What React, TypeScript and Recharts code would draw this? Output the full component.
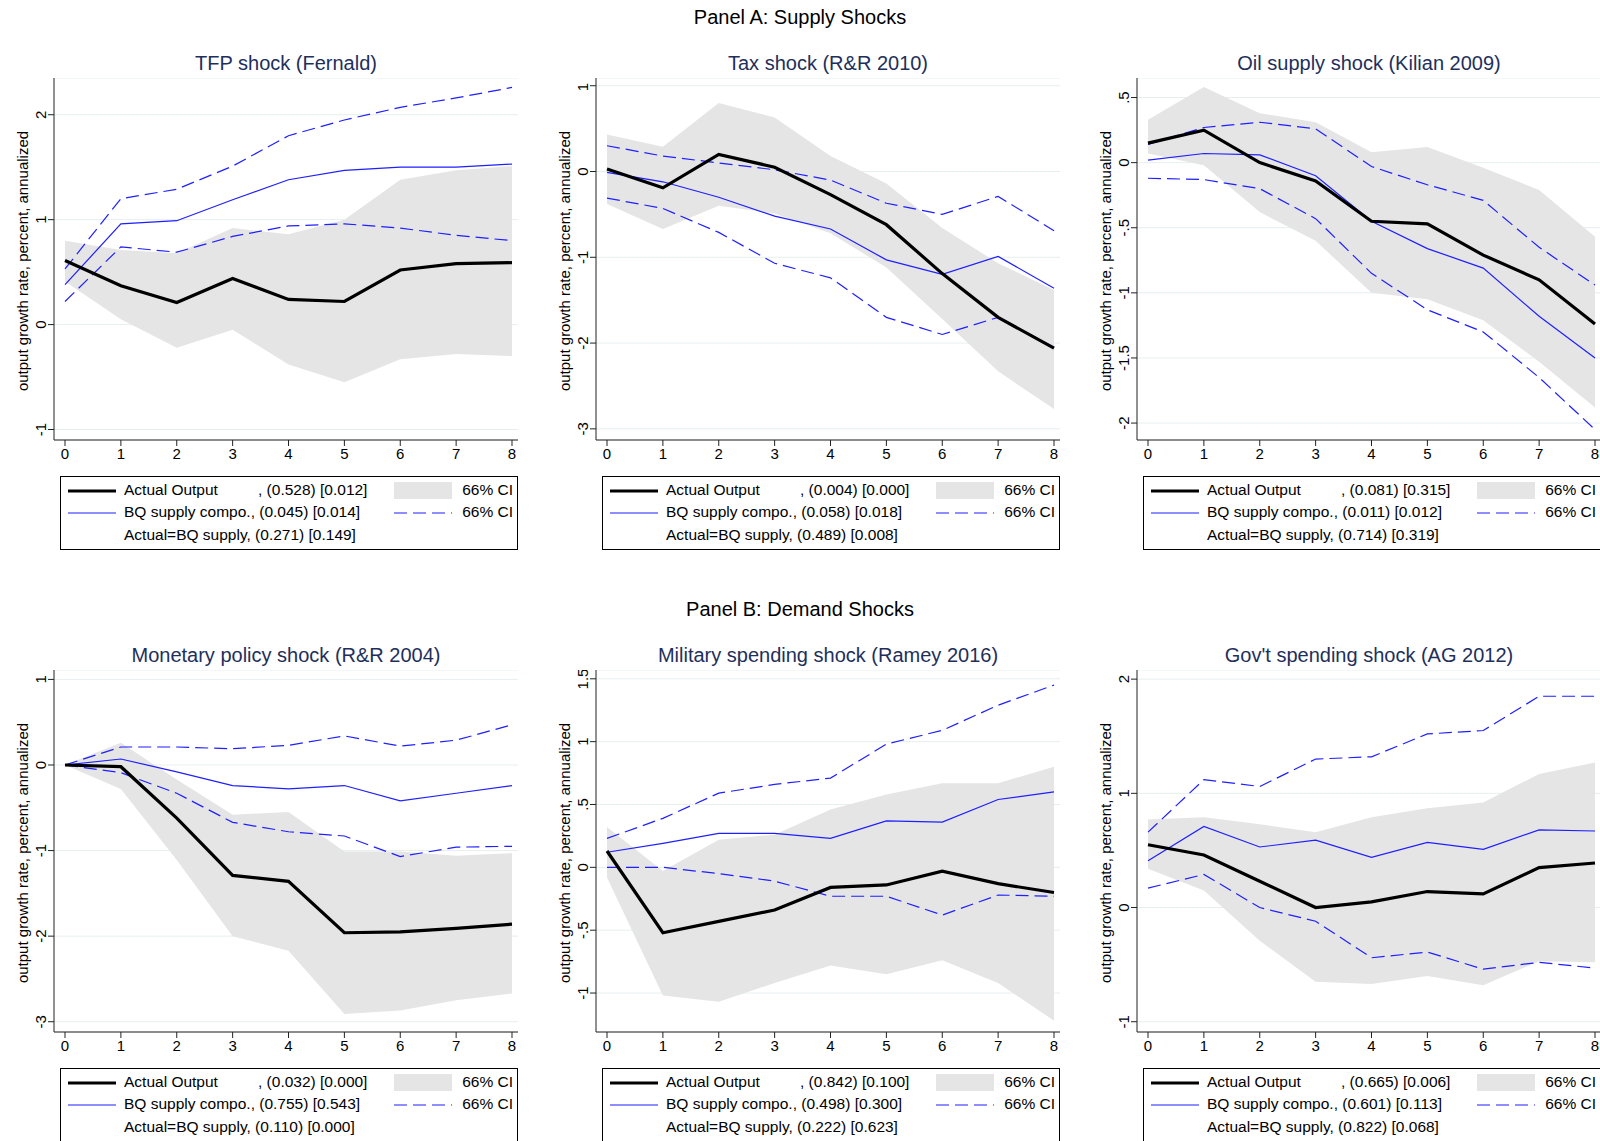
import React from 'react';
import { ComposedChart, Line, Area, XAxis, YAxis, CartesianGrid } from 'recharts';

const horizons = [0, 1, 2, 3, 4, 5, 6, 7, 8];

// Panel A
const tfpActual = [0.61, 0.37, 0.21, 0.44, 0.24, 0.22, 0.52, 0.58, 0.59];
const tfpBq = [0.38, 0.96, 0.99, 1.19, 1.38, 1.47, 1.5, 1.5, 1.53];
const tfpBqHi = [0.53, 1.2, 1.29, 1.51, 1.8, 1.95, 2.07, 2.16, 2.26];
const tfpBqLo = [0.22, 0.74, 0.69, 0.84, 0.94, 0.96, 0.92, 0.85, 0.8];
const tfpCiHi = [0.8, 0.71, 0.68, 0.92, 0.86, 1.0, 1.38, 1.47, 1.51];
const tfpCiLo = [0.41, 0.05, -0.22, -0.05, -0.38, -0.55, -0.33, -0.28, -0.3];

const taxActual = [0.03, -0.19, 0.2, 0.05, -0.27, -0.62, -1.19, -1.7, -2.06];
const taxBq = [-0.01, -0.12, -0.3, -0.52, -0.67, -1.03, -1.2, -0.99, -1.36];
const taxBqHi = [0.3, 0.18, 0.1, 0.02, -0.1, -0.37, -0.5, -0.29, -0.69];
const taxBqLo = [-0.31, -0.43, -0.71, -1.07, -1.24, -1.7, -1.9, -1.7, -2.05];
const taxCiHi = [0.43, 0.29, 0.8, 0.63, 0.18, -0.14, -0.66, -1.07, -1.38];
const taxCiLo = [-0.38, -0.67, -0.4, -0.49, -0.72, -1.12, -1.72, -2.33, -2.77];

const oilActual = [0.15, 0.25, 0.0, -0.14, -0.45, -0.47, -0.71, -0.9, -1.24];
const oilBq = [0.02, 0.07, 0.06, -0.1, -0.45, -0.66, -0.81, -1.18, -1.5];
const oilBqHi = [0.14, 0.27, 0.31, 0.26, -0.03, -0.17, -0.29, -0.65, -0.94];
const oilBqLo = [-0.12, -0.13, -0.2, -0.43, -0.85, -1.13, -1.3, -1.65, -2.05];
const oilCiHi = [0.33, 0.58, 0.38, 0.31, 0.08, 0.12, -0.04, -0.21, -0.57];
const oilCiLo = [0.07, -0.02, -0.38, -0.6, -1.0, -1.05, -1.21, -1.53, -1.88];

// Panel B
const monActual = [0, -0.02, -0.62, -1.29, -1.36, -1.96, -1.95, -1.91, -1.86];
const monBq = [0, 0.07, -0.08, -0.24, -0.28, -0.24, -0.42, -0.33, -0.24];
const monBqHi = [0, 0.21, 0.21, 0.19, 0.23, 0.34, 0.22, 0.29, 0.47];
const monBqLo = [0, -0.09, -0.33, -0.67, -0.78, -0.83, -1.07, -0.96, -0.95];
const monCiHi = [0, 0.26, -0.17, -0.58, -0.55, -1.01, -1.01, -1.06, -1.03];
const monCiLo = [0, -0.28, -1.11, -2.0, -2.17, -2.91, -2.87, -2.75, -2.67];

const milActual = [0.13, -0.52, -0.43, -0.34, -0.16, -0.14, -0.03, -0.13, -0.2];
const milBq = [0.12, 0.19, 0.27, 0.27, 0.23, 0.37, 0.36, 0.54, 0.6];
const milBqHi = [0.23, 0.39, 0.59, 0.66, 0.71, 0.98, 1.09, 1.29, 1.45];
const milBqLo = [0, 0, -0.05, -0.11, -0.23, -0.23, -0.38, -0.22, -0.23];
const milCiHi = [0.32, -0.03, 0.22, 0.26, 0.46, 0.58, 0.67, 0.67, 0.8];
const milCiLo = [-0.08, -1.02, -1.07, -0.92, -0.78, -0.85, -0.74, -0.92, -1.22];

const govActual = [0.55, 0.46, 0.23, 0.0, 0.05, 0.14, 0.12, 0.35, 0.39];
const govBq = [0.41, 0.71, 0.53, 0.59, 0.44, 0.57, 0.51, 0.68, 0.67];
const govBqHi = [0.66, 1.12, 1.06, 1.3, 1.32, 1.52, 1.55, 1.85, 1.85];
const govBqLo = [0.17, 0.29, 0.0, -0.12, -0.44, -0.39, -0.54, -0.48, -0.53];
const govCiHi = [0.77, 0.79, 0.73, 0.66, 0.79, 0.87, 0.92, 1.17, 1.27];
const govCiLo = [0.34, 0.15, -0.29, -0.65, -0.67, -0.6, -0.68, -0.47, -0.48];

const NAVY = '#1e2f5c';
const BLUE = '#1f1fff';
const FONT = 'Arial, "Liberation Sans", sans-serif';

const fmt = (v: number) => {
  if (v === 0) return '0';
  const s = String(v);
  return s.replace(/^0\./, '.').replace(/^-0\./, '-.');
};

interface PanelProps {
  title: string;
  left: number;
  top: number;
  domain: [number, number];
  ticks: number[];
  actual: number[];
  bq: number[];
  bqHi: number[];
  bqLo: number[];
  ciHi: number[];
  ciLo: number[];
  stats: string[];
}

const RotTick = (props: any) => {
  const { x, y, payload } = props;
  return (
    <text x={x} y={y} transform={`rotate(-90 ${x} ${y})`} textAnchor="middle" fontSize={15} fill="#000" fontFamily={FONT}>
      {fmt(payload.value)}
    </text>
  );
};

const Panel: React.FC<PanelProps> = (p) => {
  const data = horizons.map((h, i) => ({
    h,
    actual: p.actual[i],
    bq: p.bq[i],
    hi: p.bqHi[i],
    lo: p.bqLo[i],
    band: [p.ciLo[i], p.ciHi[i]],
  }));
  return (
    <div style={{ position: 'absolute', left: p.left, top: p.top, width: 520, height: 490, fontFamily: FONT }}>
      <div style={{ position: 'absolute', left: 54, width: 464, top: -18, textAlign: 'center', fontSize: 20, color: NAVY }}>
        {p.title}
      </div>
      <div style={{ position: 'absolute', left: 22, top: 191, width: 0, height: 0 }}>
        <div style={{ position: 'absolute', transform: 'translate(-50%,-50%) rotate(-90deg)', whiteSpace: 'nowrap', fontSize: 15 }}>
          output growth rate, percent, annualized
        </div>
      </div>
      <div style={{ position: 'absolute', left: 0, top: 8 }}>
        <ComposedChart width={518} height={400} data={data} margin={{ top: 0, right: 0, bottom: 0, left: 0 }}>
          <CartesianGrid horizontal vertical={false} stroke="#e6eff0" />
          <XAxis
            dataKey="h"
            type="number"
            domain={[0, 8]}
            ticks={horizons}
            padding={{ left: 11, right: 6 }}
            stroke="#222"
            tickSize={6}
            tick={{ fontSize: 15, fill: '#000', fontFamily: FONT }}
            height={38}
          />
          <YAxis
            type="number"
            domain={p.domain}
            ticks={p.ticks}
            allowDataOverflow
            width={54}
            stroke="#222"
            tickSize={6}
            tickMargin={2}
            tick={<RotTick />}
          />
          <Area dataKey="band" stroke="none" fill="#e5e5e5" fillOpacity={1} isAnimationActive={false} />
          <Line dataKey="hi" stroke={BLUE} strokeWidth={1.2} strokeDasharray="13 6" dot={false} isAnimationActive={false} />
          <Line dataKey="lo" stroke={BLUE} strokeWidth={1.2} strokeDasharray="13 6" dot={false} isAnimationActive={false} />
          <Line dataKey="bq" stroke={BLUE} strokeWidth={1.2} dot={false} isAnimationActive={false} />
          <Line dataKey="actual" stroke="#000" strokeWidth={3.2} dot={false} isAnimationActive={false} />
        </ComposedChart>
      </div>
      <div style={{ position: 'absolute', left: 60, top: 406, width: 456, height: 72, border: '1px solid #000', fontSize: 15.5 }}>
        <svg style={{ position: 'absolute', left: 7, top: 0 }} width={60} height={72}>
          <line x1={0} x2={48} y1={14} y2={14} stroke="#000" strokeWidth={3} />
          <line x1={0} x2={48} y1={36} y2={36} stroke={BLUE} strokeWidth={1.2} />
        </svg>
        <div style={{ position: 'absolute', left: 63, top: 4 }}>Actual Output</div>
        <div style={{ position: 'absolute', left: 197, top: 4 }}>{p.stats[0]}</div>
        <div style={{ position: 'absolute', left: 63, top: 26 }}>BQ supply compo., {p.stats[1]}</div>
        <div style={{ position: 'absolute', left: 63, top: 49 }}>Actual=BQ supply, {p.stats[2]}</div>
        <div style={{ position: 'absolute', left: 333, top: 5, width: 58, height: 17, background: '#e5e5e5' }} />
        <svg style={{ position: 'absolute', left: 333, top: 28 }} width={60} height={16}>
          <line x1={0} x2={58} y1={8} y2={8} stroke={BLUE} strokeWidth={1.2} strokeDasharray="13 6" />
        </svg>
        <div style={{ position: 'absolute', right: 4, top: 4 }}>66% CI</div>
        <div style={{ position: 'absolute', right: 4, top: 26 }}>66% CI</div>
      </div>
    </div>
  );
};

const App: React.FC = () => (
  <div style={{ position: 'absolute', left: 0, top: 0, width: 1600, height: 1141, background: '#fff', overflow: 'hidden', fontFamily: FONT }}>
    <div style={{ position: 'absolute', top: 6, width: 1600, textAlign: 'center', fontSize: 20 }}>Panel A: Supply Shocks</div>
    <div style={{ position: 'absolute', top: 598, width: 1600, textAlign: 'center', fontSize: 20 }}>Panel B: Demand Shocks</div>
    <Panel title="TFP shock (Fernald)" left={0} top={70} domain={[-1.1, 2.35]} ticks={[-1, 0, 1, 2]}
      actual={tfpActual} bq={tfpBq} bqHi={tfpBqHi} bqLo={tfpBqLo} ciHi={tfpCiHi} ciLo={tfpCiLo}
      stats={[', (0.528) [0.012]', '(0.045) [0.014]', '(0.271) [0.149]']} />
    <Panel title="Tax shock (R&R 2010)" left={542} top={70} domain={[-3.13, 1.09]} ticks={[-3, -2, -1, 0, 1]}
      actual={taxActual} bq={taxBq} bqHi={taxBqHi} bqLo={taxBqLo} ciHi={taxCiHi} ciLo={taxCiLo}
      stats={[', (0.004) [0.000]', '(0.058) [0.018]', '(0.489) [0.008]']} />
    <Panel title="Oil supply shock (Kilian 2009)" left={1083} top={70} domain={[-2.13, 0.65]} ticks={[-2, -1.5, -1, -0.5, 0, 0.5]}
      actual={oilActual} bq={oilBq} bqHi={oilBqHi} bqLo={oilBqLo} ciHi={oilCiHi} ciLo={oilCiLo}
      stats={[', (0.081) [0.315]', '(0.011) [0.012]', '(0.714) [0.319]']} />
    <Panel title="Monetary policy shock (R&R 2004)" left={0} top={662} domain={[-3.12, 1.11]} ticks={[-3, -2, -1, 0, 1]}
      actual={monActual} bq={monBq} bqHi={monBqHi} bqLo={monBqLo} ciHi={monCiHi} ciLo={monCiLo}
      stats={[', (0.032) [0.000]', '(0.755) [0.543]', '(0.110) [0.000]']} />
    <Panel title="Military spending shock (Ramey 2016)" left={542} top={662} domain={[-1.31, 1.57]} ticks={[-1, -0.5, 0, 0.5, 1, 1.5]}
      actual={milActual} bq={milBq} bqHi={milBqHi} bqLo={milBqLo} ciHi={milCiHi} ciLo={milCiLo}
      stats={[', (0.842) [0.100]', '(0.498) [0.300]', '(0.222) [0.623]']} />
    <Panel title="Gov't spending shock (AG 2012)" left={1083} top={662} domain={[-1.09, 2.08]} ticks={[-1, 0, 1, 2]}
      actual={govActual} bq={govBq} bqHi={govBqHi} bqLo={govBqLo} ciHi={govCiHi} ciLo={govCiLo}
      stats={[', (0.665) [0.006]', '(0.601) [0.113]', '(0.822) [0.068]']} />
  </div>
);

export default App;
